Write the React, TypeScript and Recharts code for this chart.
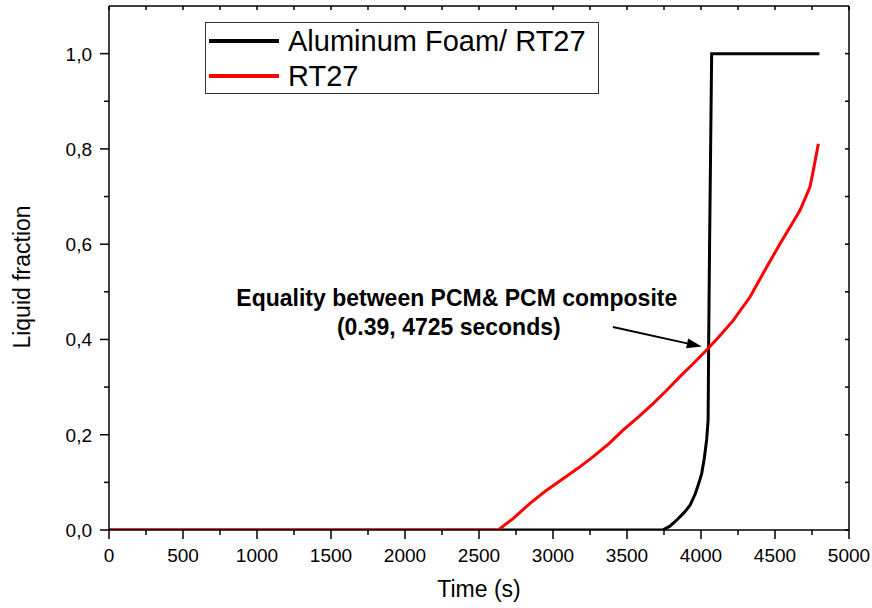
import {
  LineChart,
  Line,
  XAxis,
  YAxis,
  Legend,
  ReferenceLine,
  ReferenceDot,
} from "recharts";

// Aluminum Foam / RT27 (composite)
const foamTime = [0, 3740, 3790, 3840, 3890, 3926, 3960, 3985, 4005, 4022, 4038, 4048, 4052, 4058, 4065, 4072, 4800];
const foamFraction = [0, 0, 0.008, 0.022, 0.038, 0.052, 0.075, 0.098, 0.119, 0.15, 0.189, 0.23, 0.4, 0.6, 0.8, 1.0, 1.0];

// pure RT27
const rtTime = [0, 2630, 2730, 2845, 2950, 3070, 3170, 3272, 3380, 3475, 3580, 3678, 3770, 3858, 3950, 4038, 4120, 4218, 4331, 4444, 4534, 4600, 4669, 4736, 4759, 4793];
const rtFraction = [0, 0, 0.024, 0.056, 0.082, 0.108, 0.13, 0.154, 0.182, 0.21, 0.238, 0.266, 0.294, 0.322, 0.35, 0.378, 0.405, 0.44, 0.489, 0.552, 0.601, 0.635, 0.671, 0.72, 0.755, 0.811];

const xTicks = [0, 250, 500, 750, 1000, 1250, 1500, 1750, 2000, 2250, 2500, 2750, 3000, 3250, 3500, 3750, 4000, 4250, 4500, 4750, 5000];
const yTicks = [0, 0.1, 0.2, 0.3, 0.4, 0.5, 0.6, 0.7, 0.8, 0.9, 1.0];
const xMax = 5000;
const yMax = 1.1;

const annotationLines = ["Equality between PCM& PCM composite", "(0.39, 4725 seconds)"];
const arrowStart = { x: 3405, y: 0.426 };
const arrowEnd = { x: 4005, y: 0.385 };
const labelAnchor = { x: 2350, y: 0.487 };

const foamData = foamTime.map((t, i) => ({ t, v: foamFraction[i] }));
const rtData = rtTime.map((t, i) => ({ t, v: rtFraction[i] }));

const FONT = "'Liberation Sans', Arial, Helvetica, sans-serif";

const YTick = (props: any) => {
  const { x, y, payload } = props;
  const v = payload.value;
  const major = Math.round(v * 10) % 2 === 0;
  const axisX = x + 17;
  return (
    <g>
      <line x1={axisX - (major ? 9 : 5)} x2={axisX} y1={y} y2={y} stroke="#000" strokeWidth={1.5} />
      {major && (
        <text x={x} y={y + 7} textAnchor="end" fontSize={19} fontFamily={FONT} fill="#000">
          {v.toFixed(1).replace(".", ",")}
        </text>
      )}
    </g>
  );
};

const XTick = (props: any) => {
  const { x, y, payload } = props;
  const v = payload.value;
  const major = v % 500 === 0;
  const axisY = y - 16;
  return (
    <g>
      <line x1={x} x2={x} y1={axisY} y2={axisY + (major ? 9 : 5)} stroke="#000" strokeWidth={1.5} />
      {major && (
        <text x={x} y={axisY + 32} textAnchor="middle" fontSize={19} fontFamily={FONT} fill="#000">
          {v}
        </text>
      )}
    </g>
  );
};

// inward tick on the top edge / right edge of the frame
const TopTick = (props: any) => {
  const { x1, y1 } = props;
  return <line x1={x1} x2={x1} y1={y1} y2={y1 + 4} stroke="#000" strokeWidth={1.5} />;
};
const RightTick = (props: any) => {
  const { x1, y1 } = props;
  return <line x1={x1} x2={x1 - 4} y1={y1} y2={y1} stroke="#000" strokeWidth={1.5} />;
};

const Arrow = (props: any) => {
  const { x1, y1, x2, y2 } = props;
  const a = Math.atan2(y2 - y1, x2 - x1);
  const len = 15;
  const half = 5;
  const bx = x2 - len * Math.cos(a);
  const by = y2 - len * Math.sin(a);
  const px = -Math.sin(a) * half;
  const py = Math.cos(a) * half;
  return (
    <g>
      <line x1={x1} y1={y1} x2={bx} y2={by} stroke="#000" strokeWidth={2} />
      <polygon points={`${x2},${y2} ${bx + px},${by + py} ${bx - px},${by - py}`} fill="#000" />
    </g>
  );
};

const AnnotationText = (props: any) => {
  const { cx, cy } = props;
  return (
    <g fontFamily={FONT} fontWeight="bold" fontSize={23} fill="#000">
      <text x={cx} y={cy + 8} textAnchor="middle">{annotationLines[0]}</text>
      <text x={cx - 8} y={cy + 37} textAnchor="middle">{annotationLines[1]}</text>
    </g>
  );
};

const LegendBox = (props: any) => {
  const { payload } = props;
  return (
    <div
      style={{
        border: "1px solid #333",
        background: "#fff",
        width: 392,
        height: 70,
        boxSizing: "content-box",
        fontFamily: FONT,
      }}
    >
      {payload.map((p: any, i: number) => (
        <div key={i} style={{ display: "flex", alignItems: "center", height: 36, marginTop: i === 0 ? 0 : -1 }}>
          <div style={{ width: 70, height: 4, background: p.color, marginLeft: 3, marginRight: 9 }} />
          <span style={{ fontSize: 29, color: "#000", lineHeight: "36px" }}>{p.value}</span>
        </div>
      ))}
    </div>
  );
};

export default function App() {
  return (
    <div style={{ position: "absolute", left: 0, top: 0, background: "#fff" }}>
      <LineChart width={872} height={608} margin={{ top: 6, right: 23, bottom: 0, left: 0 }}>
        <XAxis
          dataKey="t"
          type="number"
          domain={[0, xMax]}
          ticks={xTicks}
          interval={0}
          height={78}
          tickSize={8}
          tickMargin={8}
          tickLine={false}
          tick={<XTick />}
          axisLine={{ stroke: "#000", strokeWidth: 1.5 }}
          allowDataOverflow
          label={({ viewBox }: any) => (
            <text
              x={viewBox.x + viewBox.width / 2}
              y={viewBox.y + 67}
              textAnchor="middle"
              fontSize={23}
              fontFamily={FONT}
              fill="#000"
            >
              Time (s)
            </text>
          )}
        />
        <YAxis
          type="number"
          domain={[0, yMax]}
          ticks={yTicks}
          interval={0}
          width={109}
          tickSize={8}
          tickMargin={9}
          tickLine={false}
          tick={<YTick />}
          axisLine={{ stroke: "#000", strokeWidth: 1.5 }}
          allowDataOverflow
          label={({ viewBox }: any) => {
            const cx = viewBox.x + 22;
            const cy = viewBox.y + viewBox.height / 2 + 9;
            return (
              <text
                x={cx}
                y={cy}
                transform={`rotate(-90, ${cx}, ${cy})`}
                textAnchor="middle"
                dominantBaseline="central"
                fontSize={23}
                fontFamily={FONT}
                fill="#000"
              >
                Liquid fraction
              </text>
            );
          }}
        />
        {/* frame: top and right edges */}
        <ReferenceLine y={yMax} stroke="#000" strokeWidth={1.5} />
        <ReferenceLine x={xMax} stroke="#000" strokeWidth={1.5} />
        {xTicks.map((t) => (
          <ReferenceLine key={`tt${t}`} segment={[{ x: t, y: yMax }, { x: t, y: yMax }]} shape={<TopTick />} />
        ))}
        {yTicks.map((v) => (
          <ReferenceLine key={`rt${v}`} segment={[{ x: xMax, y: v }, { x: xMax, y: v }]} shape={<RightTick />} />
        ))}
        <Legend
          layout="horizontal"
          verticalAlign="middle"
          align="center"
          content={<LegendBox />}
          wrapperStyle={{ position: "absolute", left: 205, top: 22, width: "auto" }}
        />
        <Line
          data={foamData}
          dataKey="v"
          name="Aluminum Foam/ RT27"
          type="linear"
          stroke="#000"
          strokeWidth={3}
          dot={false}
          isAnimationActive={false}
        />
        <Line
          data={rtData}
          dataKey="v"
          name="RT27"
          type="linear"
          stroke="#ff0000"
          strokeWidth={3}
          dot={false}
          isAnimationActive={false}
        />
        <ReferenceLine segment={[arrowStart, arrowEnd]} shape={<Arrow />} />
        <ReferenceDot x={labelAnchor.x} y={labelAnchor.y} r={0} shape={<AnnotationText />} />
      </LineChart>
    </div>
  );
}
